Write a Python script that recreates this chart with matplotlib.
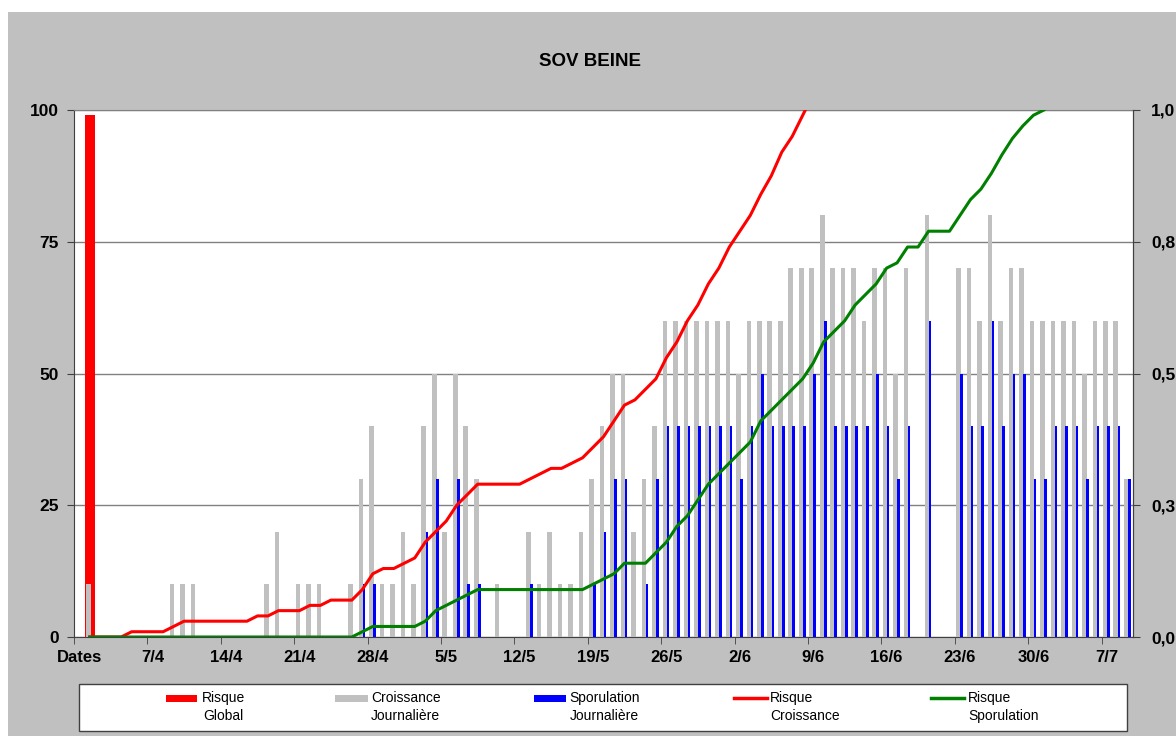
import matplotlib
matplotlib.use('Agg')
import matplotlib.pyplot as plt
import numpy as np
from matplotlib.patches import Rectangle
from matplotlib.lines import Line2D

plt.rcParams['font.family'] = ['Liberation Sans', 'DejaVu Sans']

# ----------------------------
# Data (one category per day, index 0 = "Dates")
# ----------------------------
date_pos = [0, 7, 14, 21, 28, 35, 42, 49, 56, 63, 70, 77, 84, 91, 98]
date_labels = ['Dates', '7/4', '14/4', '21/4', '28/4', '5/5', '12/5', '19/5',
               '26/5', '2/6', '9/6', '16/6', '23/6', '30/6', '7/7']

# Risque global (single bar)
global_pos = [1]
global_val = [99]

# Croissance journaliere (grey bars, %)
croissance = [0, 10, 0, 0, 0, 0, 0, 0, 0, 10,
              10, 10, 0, 0, 0, 0, 0, 0, 10, 20,
              0, 10, 10, 10, 0, 0, 10, 30, 40, 10,
              10, 20, 10, 40, 50, 20, 50, 40, 30, 0,
              10, 0, 0, 20, 10, 20, 10, 10, 20, 30,
              40, 50, 50, 20, 30, 40, 60, 60, 60, 60,
              60, 60, 60, 50, 60, 60, 60, 60, 70, 70,
              70, 80, 70, 70, 70, 60, 70, 70, 50, 70,
              0, 80, 0, 0, 70, 70, 60, 80, 60, 70,
              70, 60, 60, 60, 60, 60, 50, 60, 60, 60, 30]

# Sporulation journaliere (blue bars, %)
sporulation = [0, 0, 0, 0, 0, 0, 0, 0, 0, 0,
               0, 0, 0, 0, 0, 0, 0, 0, 0, 0,
               0, 0, 0, 0, 0, 0, 0, 10, 10, 0,
               0, 0, 0, 20, 30, 0, 30, 10, 10, 0,
               0, 0, 0, 10, 0, 0, 0, 0, 0, 10,
               20, 30, 30, 0, 10, 30, 40, 40, 40, 40,
               40, 40, 40, 30, 40, 50, 40, 40, 40, 40,
               50, 60, 40, 40, 40, 40, 50, 40, 30, 40,
               0, 60, 0, 0, 50, 40, 40, 60, 40, 50,
               50, 30, 30, 40, 40, 40, 30, 40, 40, 40, 30]

nan = np.nan
# Risque croissance (right axis, 0-1)
risque_croissance = [nan, 0, 0, 0, 0, .01, .01, .01, .01, .02,
                     .03, .03, .03, .03, .03, .03, .03, .04, .04, .05,
                     .05, .05, .06, .06, .07, .07, .07, .09, .12, .13,
                     .13, .14, .15, .18, .20, .22, .25, .27, .29, .29,
                     .29, .29, .29, .30, .31, .32, .32, .33, .34, .36,
                     .38, .41, .44, .45, .47, .49, .53, .56, .60, .63,
                     .67, .70, .74, .77, .80, .84, .875, .92, .95, .99,
                     1.03] + [nan] * 30

# Risque sporulation (right axis, 0-1)
risque_sporulation = [nan] + [0] * 26 + [
    .01, .02, .02,
    .02, .02, .02, .03, .05, .06, .07, .08, .09, .09,
    .09, .09, .09, .09, .09, .09, .09, .09, .09, .10,
    .11, .12, .14, .14, .14, .16, .18, .21, .23, .26,
    .29, .31, .33, .35, .37, .41, .43, .45, .47, .49,
    .52, .56, .58, .60, .63, .65, .67, .70, .71, .74,
    .74, .77, .77, .77, .80, .83, .85, .88, .915, .946,
    .97, .99, 1.0] + [nan] * 8

right_labels = ['0,0', '0,3', '0,5', '0,8', '1,0']

# ----------------------------
# Figure & layout (pixel helpers)
# ----------------------------
W, H = 1176, 736


def fx(px):
    return px / W


def fy(py):
    return 1 - py / H


fig = plt.figure(figsize=(11.76, 7.36), dpi=100, facecolor='white')
fig.patches.append(Rectangle((fx(8), 0), 1 - fx(8), fy(12),
                             transform=fig.transFigure, facecolor='#C0C0C0',
                             edgecolor='none', zorder=-10))

ax = fig.add_axes([fx(74), fy(637), fx(1133) - fx(74), fy(110) - fy(637)])
ax.set_facecolor('white')

x = np.arange(len(croissance))
ax.bar(global_pos, global_val, width=0.92, color='#FF0000', zorder=2)
ax.bar(x - 0.14, croissance, width=0.44, color='#C0C0C0', zorder=3)
ax.bar(x + 0.15, sporulation, width=0.25, color='#0000FF', zorder=4)

ax.set_xlim(-0.5, len(x) - 0.5)
ax.set_ylim(0, 100)
ax.set_yticks([0, 25, 50, 75, 100])
ax.yaxis.grid(True, color='#808080', lw=1)
ax.set_axisbelow(True)

ax.set_xticks(date_pos)
ax.set_xticklabels(date_labels)
ax.set_xticks(np.array(date_pos) - 0.5, minor=True)
ax.tick_params(axis='x', which='major', length=0, pad=9, labelsize=12)
ax.tick_params(axis='x', which='minor', length=5, direction='out', color='#404040')
ax.tick_params(axis='y', length=5, pad=6, labelsize=12.5, color='#404040')
for lab in ax.get_xticklabels() + ax.get_yticklabels():
    lab.set_fontweight('bold')

for side in ['left', 'bottom', 'right']:
    ax.spines[side].set_color('#404040')
ax.spines['top'].set_color('#808080')

# ---- lines on the 0-1 axis ----
ax2 = ax.twinx()
ax2.set_ylim(0, 1)
ax2.plot(x, risque_croissance, color='#FF0000', lw=2.2)
ax2.plot(x, risque_sporulation, color='#008000', lw=2.2)
ax2.set_yticks([0, .25, .5, .75, 1])
ax2.set_yticklabels(right_labels, fontweight='bold', fontsize=12.5)
ax2.tick_params(axis='y', length=5, pad=8, color='#404040')
for side in ['left', 'bottom', 'top']:
    ax2.spines[side].set_visible(False)
ax2.spines['right'].set_color('#404040')

fig.text(fx(590), fy(62), 'SOV BEINE', ha='center', va='center',
         fontsize=13.5, fontweight='bold')

# ----------------------------
# Legend (drawn by hand, Excel style)
# ----------------------------
fig.patches.append(Rectangle((fx(79), fy(731)), fx(1127) - fx(79), fy(684) - fy(731),
                             transform=fig.transFigure, facecolor='white',
                             edgecolor='#404040', lw=1, zorder=5))

row1, row2 = 698, 716.5
entries = [
    ('bar', '#FF0000', 166, 197, 202, 'Risque\nGlobal', 'center'),
    ('bar', '#C0C0C0', 335, 368, 371, 'Croissance\nJournalière', 'center'),
    ('bar', '#0000FF', 534, 566, 569, 'Sporulation\nJournalière', 'center'),
    ('line', '#FF0000', 734, 767, 770, 'Risque\nCroissance', 'left'),
    ('line', '#008000', 931, 964, 968, 'Risque\nSporulation', 'left'),
]
for kind, col, x0, x1, tx, txt, al in entries:
    if kind == 'bar':
        fig.patches.append(Rectangle((fx(x0), fy(row1 + 3.5)), fx(x1) - fx(x0),
                                     fy(row1 - 3.5) - fy(row1 + 3.5),
                                     transform=fig.transFigure, facecolor=col,
                                     edgecolor='none', zorder=6))
    else:
        fig.lines.append(Line2D([fx(x0), fx(x1)], [fy(row1), fy(row1)],
                                transform=fig.transFigure, color=col, lw=2.5,
                                zorder=6))
    fig.text(fx(tx), fy((row1 + row2) / 2), txt, ha='left', va='center',
             multialignment=al, fontsize=10, linespacing=1.35, zorder=7)

fig.savefig('out.png', dpi=100, facecolor=fig.get_facecolor())
